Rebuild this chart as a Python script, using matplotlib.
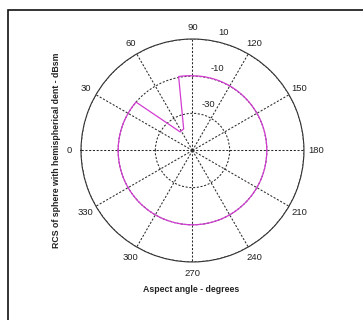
import numpy as np
import matplotlib.pyplot as plt
from matplotlib.patches import Rectangle

plt.rcParams['font.family'] = ['Liberation Sans', 'DejaVu Sans']

# key points of the RCS trace (aspect angle in degrees, RCS in dBsm)
aspect_deg = [0, 40.6, 56.4, 67.7, 79.4, 90, 180, 270, 360]
rcs_dbsm = [-10, -10, -38, -37.5, -9.5, -9.8, -10, -10, -10]

theta_ticks = list(range(0, 360, 30))
r_ticks = [-30, -10, 10]
r_min, r_max = -50, 10


def trace(ang, val):
    # constant-radius stretches are arcs, the rest straight segments
    t_out, r_out = [ang[0]], [val[0]]
    for a0, a1, v0, v1 in zip(ang[:-1], ang[1:], val[:-1], val[1:]):
        if abs(v0 - v1) < 0.6:
            n = max(int(abs(a1 - a0)), 2)
            t_out.extend(np.linspace(a0, a1, n + 1)[1:])
            r_out.extend(np.linspace(v0, v1, n + 1)[1:])
        else:
            t_out.append(a1)
            r_out.append(v1)
    return np.deg2rad(t_out), np.array(r_out)


fig = plt.figure(figsize=(3.63, 3.2), dpi=100)
fig.patch.set_facecolor('white')

# window frame (left and top edges visible)
fig.add_artist(Rectangle((7.5 / 363, -0.1), 1.2, (320 - 9.5) / 320 + 0.1,
                         transform=fig.transFigure, fill=False,
                         edgecolor='#111111', linewidth=1.2))

ax = fig.add_axes([0.2231, 0.18125, 0.6143, 0.697], projection='polar')
ax.set_theta_zero_location('W')
ax.set_theta_direction(-1)
ax.set_rlim(r_min, r_max)

t, r = trace(aspect_deg, rcs_dbsm)
ax.plot(t, r, color='#d23cd2', linewidth=0.9)

ax.set_thetagrids(theta_ticks, [str(v) for v in theta_ticks],
                  fontsize=6.8, color='#222222')
ax.tick_params(axis='x', pad=-2)
ax.set_rticks(r_ticks)
ax.set_yticklabels([])
ax.grid(True, color='#2a2a2a', linestyle=(0, (2, 1.6)), linewidth=0.75)
ax.spines['polar'].set_color('#333333')
ax.spines['polar'].set_linewidth(0.8)

for v in r_ticks:
    ax.text(np.deg2rad(103), v + 2.7, str(v), fontsize=6.8, color='#222222',
            ha='left', va='bottom')

fig.text(190.8 / 363, 1 - 289.3 / 320, 'Aspect angle - degrees',
         fontsize=6.3, fontweight='bold', ha='center', va='center',
         color='#222222')
fig.text(56.7 / 363, 1 - 150.8 / 320,
         'RCS of sphere with hemispherical dent - dBsm',
         fontsize=6.3, fontweight='bold', ha='center', va='center',
         rotation=90, color='#222222')

fig.savefig('out.png', dpi=100, facecolor='white')
